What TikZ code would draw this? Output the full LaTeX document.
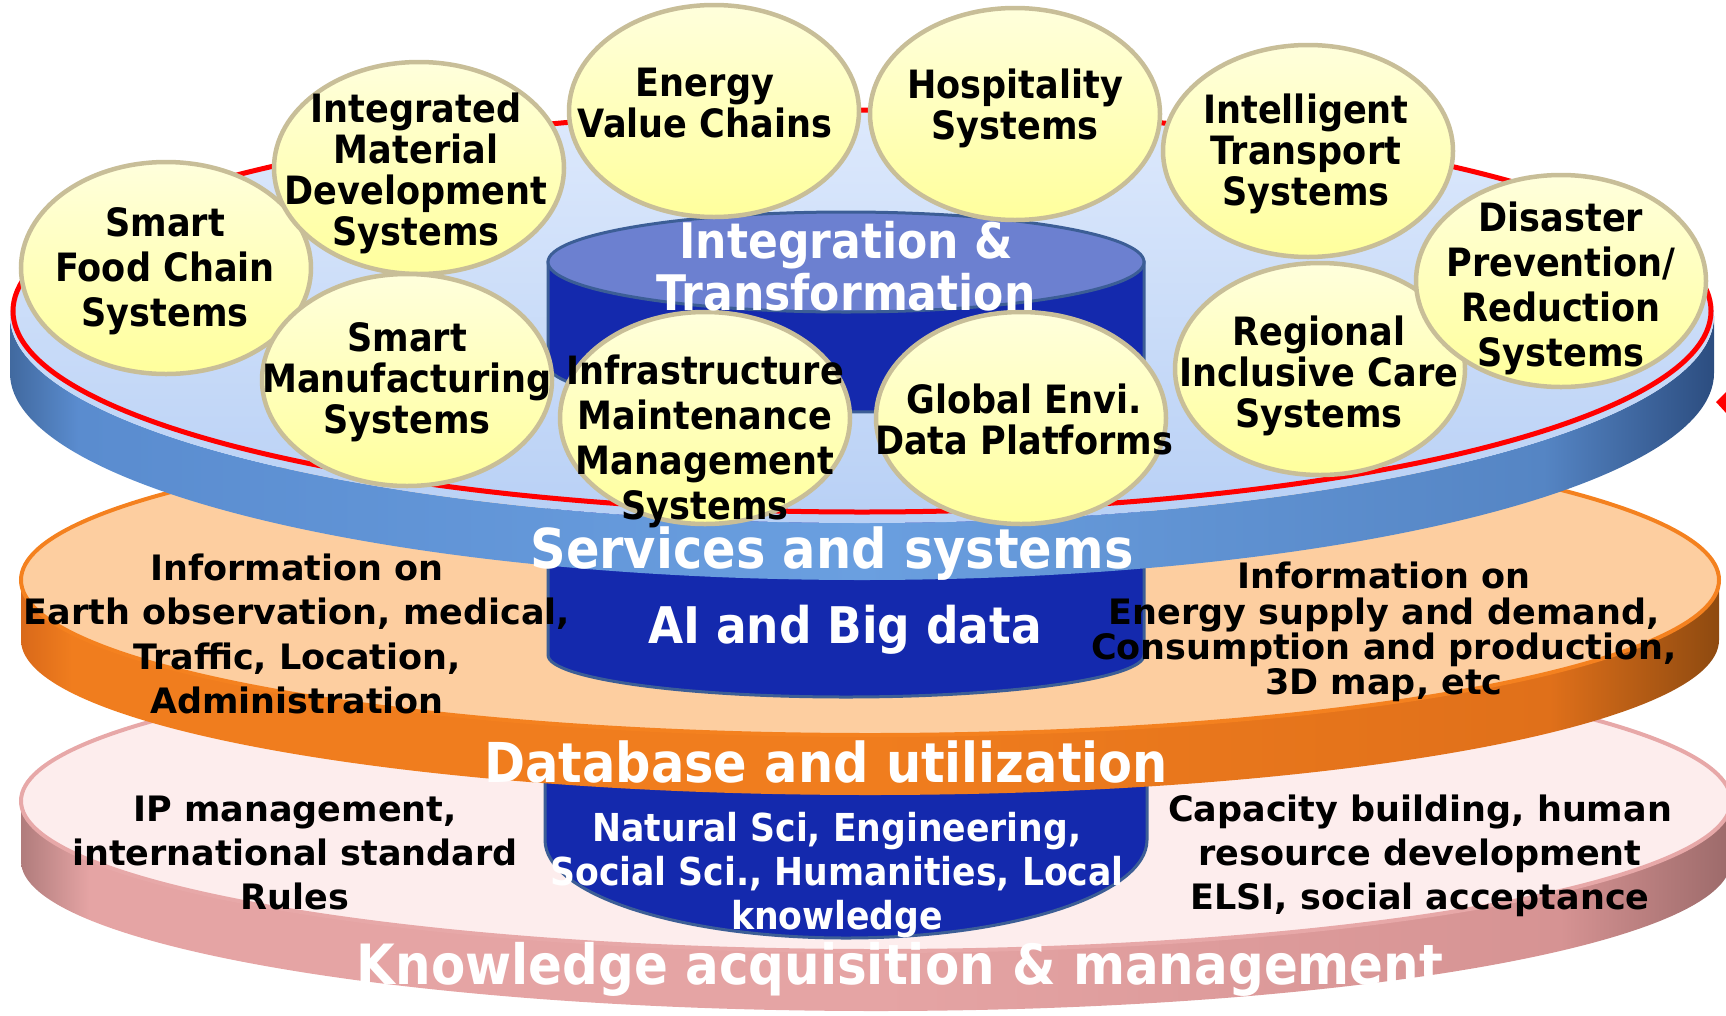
\documentclass[tikz,border=0pt]{standalone}
\usepackage{fontspec}
\setmainfont{DejaVu Sans}
\newfontfamily\narrowfont{DejaVu Sans}[FakeStretch=0.9]
\usetikzlibrary{shapes.geometric}

\definecolor{blueTopA}{HTML}{DDE9FC}
\definecolor{blueTopB}{HTML}{B8D0F5}
\definecolor{bsE}{HTML}{41699F}
\definecolor{bsL}{HTML}{5A8CCF}
\definecolor{bsM}{HTML}{6A9FE0}
\definecolor{bsR2}{HTML}{5585C4}
\definecolor{bsR}{HTML}{2C4D80}
\definecolor{orTop}{HTML}{FDCEA0}
\definecolor{orEdge}{HTML}{F4811F}
\definecolor{osE}{HTML}{D9691A}
\definecolor{osM}{HTML}{F07D1E}
\definecolor{osR2}{HTML}{E0701A}
\definecolor{osR}{HTML}{8E4A10}
\definecolor{pkTop}{HTML}{FDEDED}
\definecolor{pkEdge}{HTML}{E7A8A8}
\definecolor{psE}{HTML}{B07C7C}
\definecolor{psM}{HTML}{E5A4A4}
\definecolor{psR2}{HTML}{D69393}
\definecolor{psR}{HTML}{9C6A6A}
\definecolor{cylFill}{HTML}{1429AD}
\definecolor{cylTop}{HTML}{6C80D0}
\definecolor{cylEdge}{HTML}{3C5E96}
\definecolor{bubA}{HTML}{FFFFDC}
\definecolor{bubB}{HTML}{FFFF9C}
\definecolor{bubEdge}{HTML}{C8BE98}
\definecolor{ringRed}{HTML}{FF0000}

% rim shadings: the path spans 25bp..75bp, darker only near the ends
\pgfdeclarehorizontalshading{blueRim}{100bp}{color(0bp)=(bsE); color(25bp)=(bsE);
  color(27bp)=(bsL); color(50bp)=(bsM); color(70bp)=(bsR2); color(75bp)=(bsR); color(100bp)=(bsR)}
\pgfdeclarehorizontalshading{orangeRim}{100bp}{color(0bp)=(osE); color(25bp)=(osE);
  color(26.5bp)=(osM); color(50bp)=(osM); color(70bp)=(osR2); color(75bp)=(osR); color(100bp)=(osR)}
\pgfdeclarehorizontalshading{pinkRim}{100bp}{color(0bp)=(psE); color(25bp)=(psE);
  color(27bp)=(psM); color(50bp)=(psM); color(70bp)=(psR2); color(75bp)=(psR); color(100bp)=(psR)}

\begin{document}
\begin{tikzpicture}[x=1pt,y=1pt,
  bubble/.style={ellipse, draw=bubEdge, line width=4.5pt, shade, top color=bubA,
    bottom color=bubB, minimum width=290pt, minimum height=212pt, inner sep=0pt},
  bubtext/.style={font=\narrowfont\bfseries\fontsize{39}{41}\selectfont, align=center,
    text=black, inner sep=0pt},
  disktext/.style={font=\bfseries\fontsize{35}{44}\selectfont, align=center,
    text=black, inner sep=0pt},
  bandtext/.style={font=\narrowfont\bfseries\fontsize{55}{60}\selectfont, text=white,
    inner sep=0pt},
  cyltext/.style={font=\narrowfont\bfseries, text=white, align=center, inner sep=0pt},
  cylbody/.style={fill=cylFill, draw=cylEdge, line width=3pt}
]
\clip (0,0) rectangle (1726,-1015);

% ---- bottom disk: knowledge ----
\shade[shading=pinkRim]
  (21,-801) -- (21,-861) arc[start angle=180,end angle=360,x radius=855,y radius=150]
  -- (1731,-801) arc[start angle=0,end angle=-180,x radius=855,y radius=150] -- cycle;
\filldraw[fill=pkTop, draw=pkEdge, line width=4pt] (876,-801) ellipse[x radius=855,y radius=150];

% lower column segment
\filldraw[cylbody] (545,-700) -- (545,-840)
  arc[start angle=180,end angle=360,x radius=301,y radius=98] -- (1147,-700) -- cycle;

\node[disktext] (iptext) at (295,-853) {IP management,\\international standard\\Rules};
\node[disktext] (captext) at (1420,-856) {Capacity building, human\\resource development\\ELSI, social acceptance};
\node[cyltext, font=\narrowfont\bfseries\fontsize{38.5}{44}\selectfont] (scitext) at (837,-875)
  {Natural Sci, Engineering,\\Social Sci., Humanities, Local\\knowledge};
\node[bandtext, font=\narrowfont\bfseries\fontsize{55.5}{60}\selectfont] (knowlabel) at (900,-969) {Knowledge acquisition \& management};

% ---- middle disk: database ----
\shade[shading=orangeRim]
  (21,-580) -- (21,-640) arc[start angle=180,end angle=360,x radius=849,y radius=155]
  -- (1719,-580) arc[start angle=0,end angle=-180,x radius=849,y radius=155] -- cycle;
\filldraw[fill=orTop, draw=orEdge, line width=4pt] (870,-580) ellipse[x radius=849,y radius=155];

% middle column segment
\filldraw[cylbody] (548,-480) -- (548,-655)
  arc[start angle=180,end angle=360,x radius=298,y radius=42] -- (1144,-480) -- cycle;
\node[cyltext, font=\narrowfont\bfseries\fontsize{50.5}{55}\selectfont] (aitext) at (845,-630) {AI and Big data};

\node[disktext, font=\bfseries\fontsize{35}{44.5}\selectfont] (infoleft) at (297,-634)
  {Information on\\Earth observation, medical,\\Traffic, Location,\\Administration};
\node[disktext, font=\bfseries\fontsize{35}{35.3}\selectfont] (inforight) at (1384,-632)
  {Information on\\Energy supply and demand,\\Consumption and production,\\3D map, etc};
\node[bandtext] (dblabel) at (826,-762) {Database and utilization};

% ---- top disk: services ----
\shade[shading=blueRim]
  (10,-316) -- (10,-373) arc[start angle=180,end angle=360,x radius=852,y radius=207]
  -- (1714,-316) arc[start angle=0,end angle=-180,x radius=852,y radius=207] -- cycle;
\shade[top color=blueTopA, bottom color=blueTopB] (862,-316) ellipse[x radius=852,y radius=207];
\draw[ringRed, line width=5pt] (862,-311) ellipse[x radius=849,y radius=201];
\node[bandtext] (svlabel) at (832,-554) {Services and systems};

% upper column segment
\filldraw[cylbody] (548,-262) -- (548,-365)
  arc[start angle=180,end angle=360,x radius=298,y radius=47] -- (1144,-262) -- cycle;
\filldraw[fill=cylTop, draw=cylEdge, line width=3pt] (846,-262) ellipse[x radius=298,y radius=50];

% ---- system bubbles ----
\node[bubble] (food) at (166,-268) {};
\node[bubble] (material) at (419,-168) {};
\node[bubble] (energy) at (714,-111) {};
\node[bubble] (hosp) at (1015,-114) {};
\node[bubble] (transport) at (1308,-151) {};
\node[bubble] (manuf) at (407,-380) {};
\node[bubble] (infra) at (705,-418) {};
\node[bubble] (global) at (1021,-418) {};
\node[bubble] (regional) at (1320,-369) {};
\node[bubble] (disaster) at (1561,-281) {};

\node[bubtext, font=\narrowfont\bfseries\fontsize{39}{45}\selectfont] (foodt) at (165,-271) {Smart\\Food Chain\\Systems};
\node[bubtext] (materialt) at (416,-173) {Integrated\\Material\\Development\\Systems};
\node[bubtext] (energyt) at (705,-103) {Energy\\Value Chains};
\node[bubtext] (hospt) at (1015,-108) {Hospitality\\Systems};
\node[bubtext] (transportt) at (1306,-154) {Intelligent\\Transport\\Systems};
\node[bubtext] (manuft) at (407,-382) {Smart\\Manufacturing\\Systems};
\node[bubtext, font=\narrowfont\bfseries\fontsize{39}{45}\selectfont] (infrat) at (705,-441) {Infrastructure\\Maintenance\\Management\\Systems};
\node[bubtext] (globalt) at (1024,-419) {Global Envi.\\Data Platforms};
\node[bubtext] (regionalt) at (1319,-376) {Regional\\Inclusive Care\\Systems};
\node[bubtext, font=\narrowfont\bfseries\fontsize{39}{45}\selectfont] (disastert) at (1561,-288) {Disaster\\Prevention/\\Reduction\\Systems};

\node[cyltext, font=\narrowfont\bfseries\fontsize{49}{52}\selectfont] (integt) at (846,-266) {Integration \&\\Transformation};

% arrow tip entering from the right edge
\fill[ringRed] (1716,-402) -- (1727,-391) -- (1727,-414) -- cycle;
\end{tikzpicture}
\end{document}
